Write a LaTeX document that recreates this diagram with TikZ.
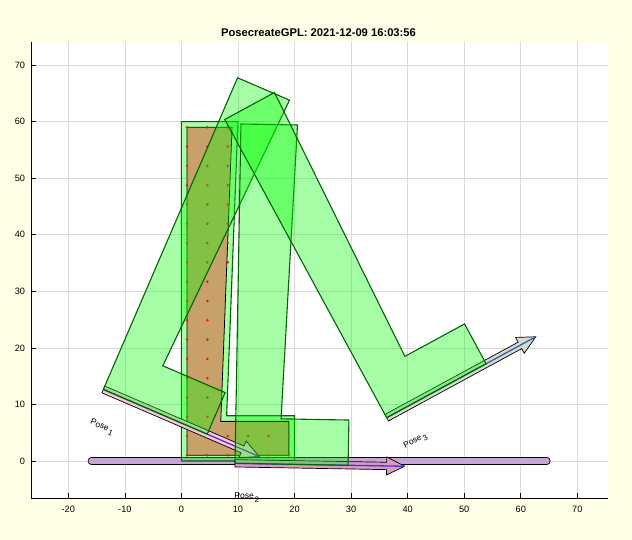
\documentclass[tikz,border=0pt]{standalone}
\usepackage{fontspec}
\setmainfont{Liberation Sans}
\usepackage{tikz}

\definecolor{bgyellow}{RGB}{255,255,232}
\definecolor{gridgray}{RGB}{218,218,218}
\definecolor{edgegreen}{RGB}{0,100,0}
\definecolor{innertan}{RGB}{200,160,105}
\definecolor{dotred}{RGB}{240,20,10}
\definecolor{barlilac}{RGB}{200,165,215}
\definecolor{poseapink}{RGB}{245,200,215}
\definecolor{posealine}{RGB}{110,40,200}
\definecolor{posebpink}{RGB}{215,155,200}
\definecolor{poseblline}{RGB}{90,40,210}
\definecolor{posecgray}{RGB}{210,222,200}
\definecolor{posecline}{RGB}{60,90,200}

\newcommand{\robotoutline}{(0,0) -- (20,0) -- (20,8) -- (8,8) -- (10,60) -- (0,60) -- cycle}
\newcommand{\arrowoutline}{(0,-0.65) -- (26.8,-0.65) -- (26.8,-1.6) -- (30,0) -- (26.8,1.6) -- (26.8,0.65) -- (0,0.65) -- cycle}
\newcommand{\posesub}[1]{Pose\kern1pt\raisebox{-0.7ex}{\footnotesize #1}}

\tikzset{
	robot/.style={draw=edgegreen, fill=green, fill opacity=0.35, line width=1.1pt},
	innershape/.style={draw=black, fill=innertan, line width=0.8pt},
	sample/.style={fill=dotred},
	gridline/.style={gridgray, line width=0.6pt},
	posebox/.style={draw=black, line width=0.7pt},
	poselabel/.style={font=\fontsize{8.5}{10}\selectfont, inner sep=0pt},
	ticklabel/.style={font=\fontsize{9.2}{11}\selectfont, inner sep=0pt}
}

\begin{document}
\begin{tikzpicture}[x=5.656pt, y=5.656pt]
		\fill[bgyellow] (-32.073,-13.967) rectangle (79.67,81.506);
		\useasboundingbox (-32.073,-13.967) rectangle (79.67,81.506);
		\fill[white] (-26.59,-6.54) rectangle (75.42,74.08);

		\foreach \x in {-20,-10,...,70} {
			\draw[gridline] (\x,-6.54) -- (\x,74.08);
			\draw[line width=0.6pt] (\x,-6.54) -- ++(0,0.88);
			\node[ticklabel] (xtick\x) at (\x,-8.49) {\x};
		}
		\foreach \y in {0,10,...,70} {
			\draw[gridline] (-26.59,\y) -- (75.42,\y);
			\draw[line width=0.6pt] (-26.59,\y) -- ++(0.88,0);
			\node[ticklabel, anchor=east] (ytick\y) at (-27.6,\y) {\y};
		}
		\draw[line width=0.9pt] (-26.59,74.08) -- (-26.59,-6.54) -- (75.42,-6.54);
		\node[font=\bfseries\fontsize{11.2}{13}\selectfont] (title) at (24.24,75.75) {PosecreateGPL: 2021-12-09 16:03:56};

		\draw[line width=7.6pt, line cap=round] (-15.9,0) -- (64.6,0);
		\draw[barlilac, line width=5.9pt, line cap=round] (-15.9,0) -- (64.6,0);

		\draw[robot] \robotoutline;
		\draw[innershape] (1,1) -- (19,1) -- (19,7) -- (6.96,7) -- (8.96,59) -- (1,59) -- cycle;
		\foreach \x in {1,4.6,8.2,11.8,15.4,19} {
			\fill[sample] (\x,1) circle (1.4pt);
			\fill[sample] (\x,{1+58/17}) circle (1.4pt);
		}
		\foreach \k in {2,...,17} {
			\fill[sample] (1,{1+\k*58/17}) circle (1.4pt);
			\fill[sample] (4.6,{1+\k*58/17}) circle (1.4pt);
		}
		\foreach \k in {10,...,17}
			\fill[sample] (8.2,{1+\k*58/17}) circle (1.4pt);

		\begin{scope}[shift={(-13.8,12.65)}, rotate=-23.3]
			\draw[posebox, fill=poseapink] \arrowoutline;
			\draw[posealine, line width=1.3pt] (0,0) -- (30,0);
			\draw[robot] \robotoutline;
			\node[poselabel, rotate=-23.3] (pose-1) at (2.4,-6.3) {\posesub{1}};
		\end{scope}
		\begin{scope}[shift={(9.48,-0.41)}, rotate=-1]
			\draw[posebox, fill=posebpink] \arrowoutline;
			\draw[poseblline, line width=1.3pt] (0,0) -- (30,0);
			\draw[robot] \robotoutline;
			\node[poselabel, rotate=-1] (pose-2) at (2.2,-6) {\posesub{2}};
		\end{scope}
		\begin{scope}[shift={(36.3,7.65)}, rotate=28.5]
			\draw[posebox, fill=posecgray] \arrowoutline;
			\draw[posecline, line width=1.3pt] (0,0) -- (30,0);
			\draw[robot] \robotoutline;
			\node[poselabel, rotate=28.5] (pose-3) at (2.5,-6.1) {\posesub{3}};
		\end{scope}
	\end{tikzpicture}
\end{document}
